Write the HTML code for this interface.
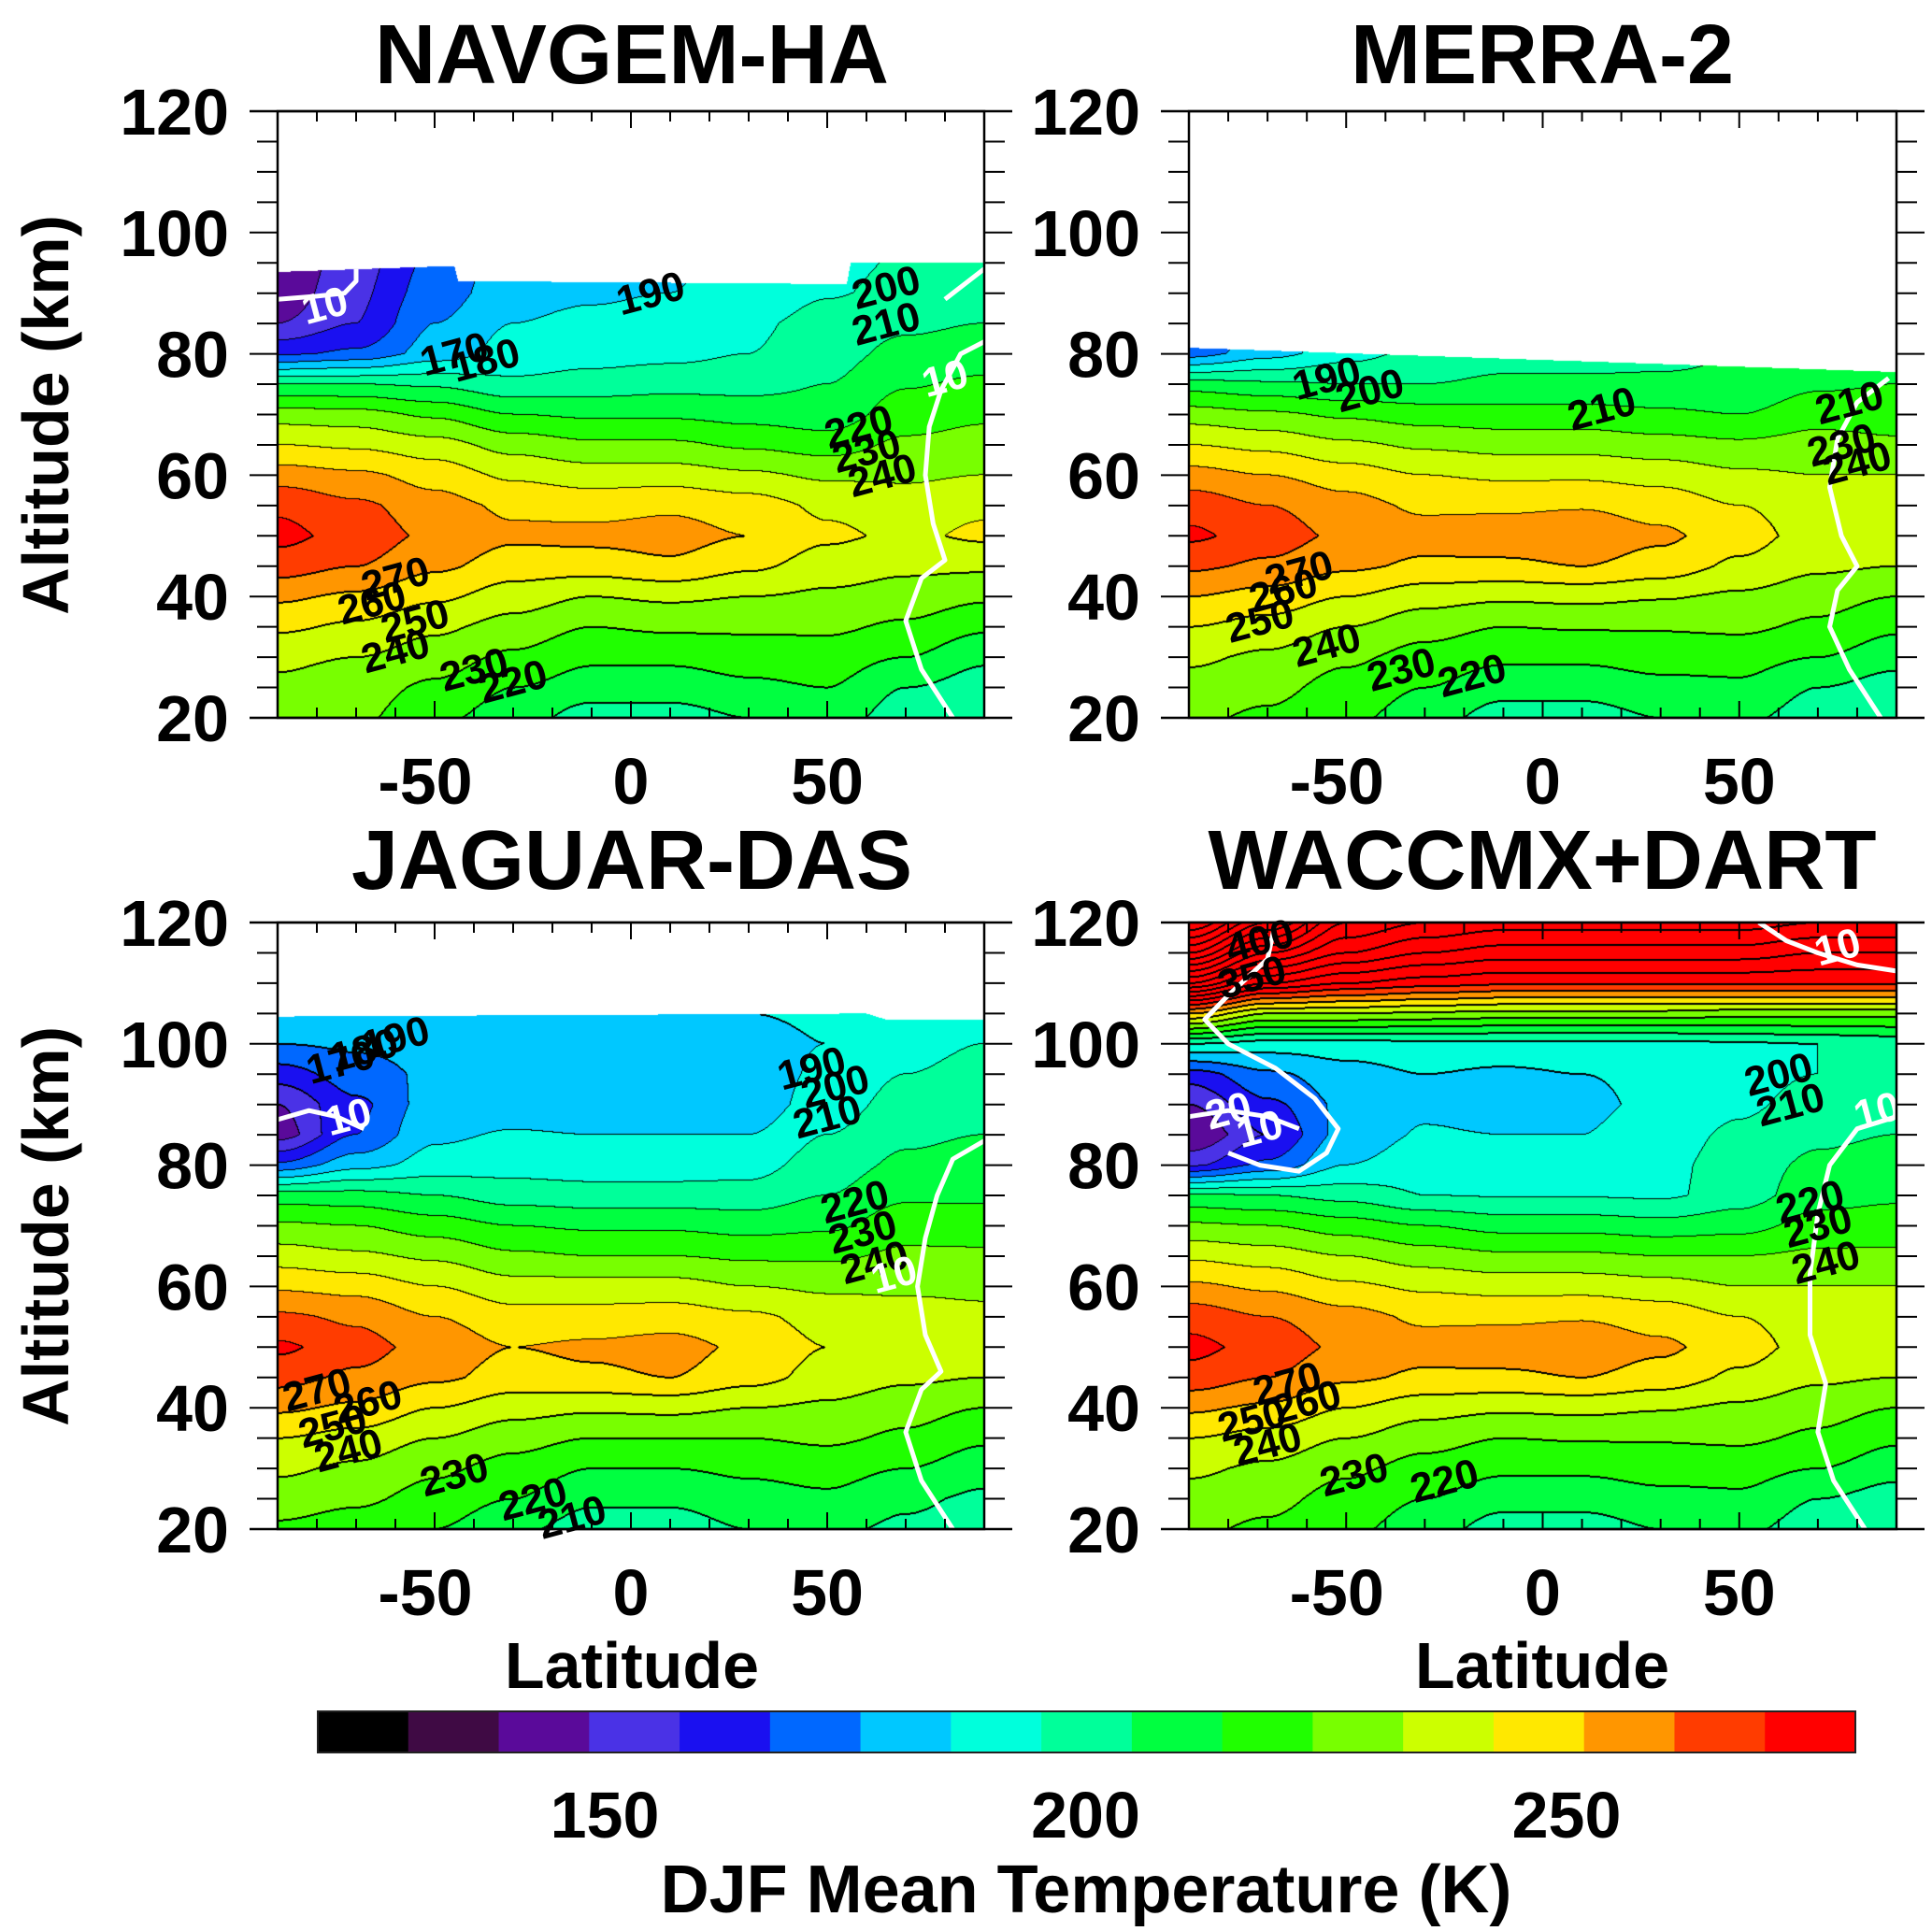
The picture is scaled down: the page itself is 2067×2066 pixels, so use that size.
<!DOCTYPE html>
<html><head><meta charset="utf-8">
<style>
html,body{margin:0;padding:0;background:#fff;}
#root{position:relative;width:2067px;height:2066px;overflow:hidden;font-family:"Liberation Sans",sans-serif;}
canvas{position:absolute;}
svg{position:absolute;left:0;top:0;}
</style></head>
<body>
<div id="root">
<canvas id="c0"></canvas>
<canvas id="c1"></canvas>
<canvas id="c2"></canvas>
<canvas id="c3"></canvas>
<svg id="ov" width="2067" height="2066"></svg>
</div>
<script>
// ---- data ----
const lats = [-90,-70,-50,-30,-10,10,30,50,70,90];
const altsNavgem = [20,25,30,35,40,45,50,55,60,65,70,75,80,85,90,95];
const tempNavgem = [
[235,232,222,215,205,205,210,215,205,205],
[238,235,228,220,215,215,218,220,210,205],
[242,240,235,228,222,222,224,225,220,212],
[252,248,242,236,230,232,232,232,228,222],
[262,258,252,245,240,242,240,238,236,232],
[275,270,262,255,255,258,252,245,242,242],
[283,276,268,262,263,264,260,252,248,252],
[278,272,264,258,256,258,255,248,245,248],
[265,262,256,248,245,245,242,238,238,240],
[250,248,244,236,232,232,228,225,232,234],
[235,234,228,220,218,218,216,214,225,228],
[210,210,208,202,204,206,206,210,219,222],
[168,172,184,194,196,197,200,206,213,215],
[150,160,180,190,193,195,198,204,208,210],
[143,158,175,186,188,190,193,199,203,205],
[140,156,172,185,187,189,192,197,201,203]];
const topLatNavgem = [-90,-45,-44,55,56,90];
const topAltNavgem = [93.5,94.5,92,91.5,95,95];

const altsMerra = [20,25,30,35,40,45,50,55,60,65,70,75,80,85];
const tempMerra = [
[232,228,222,215,205,205,210,212,205,202],
[236,233,226,220,214,214,217,218,210,205],
[242,238,232,226,222,222,224,224,220,214],
[250,246,240,234,230,231,231,232,228,222],
[260,256,250,244,242,243,241,238,234,230],
[272,268,262,258,258,260,256,248,242,240],
[282,275,268,264,265,266,262,254,246,245],
[276,270,264,258,258,259,256,250,245,244],
[264,260,255,250,248,248,246,242,240,240],
[250,247,242,238,236,236,234,232,234,232],
[235,232,228,225,224,224,222,220,226,225],
[215,212,210,210,212,212,212,212,218,220],
[175,186,196,203,206,206,207,210,214,216],
[168,180,192,200,203,204,205,208,212,214]];
const topLatMerra = [-90,90];
const topAltMerra = [81,77];

const altsJaguar = [20,25,30,35,40,45,50,55,60,65,70,75,80,85,90,95,100,105];
const tempJaguar = [
[228,225,220,212,205,205,210,212,208,205],
[235,232,226,220,212,212,216,218,212,208],
[242,238,232,226,220,220,222,224,220,214],
[250,246,240,234,230,230,230,232,228,222],
[262,258,250,244,242,243,240,238,234,230],
[274,268,262,256,258,260,254,246,242,240],
[282,274,266,260,262,264,258,250,246,244],
[272,268,260,254,254,255,252,246,244,242],
[258,256,250,244,244,244,240,238,238,238],
[245,242,238,232,230,230,228,228,232,232],
[232,230,225,220,218,218,216,218,226,225],
[215,214,210,205,204,204,204,210,218,218],
[172,186,194,196,195,195,196,205,212,214],
[145,170,188,191,190,190,190,200,208,210],
[150,168,184,185,184,184,184,195,204,206],
[165,175,182,182,182,182,184,192,200,204],
[180,182,184,184,184,184,186,190,196,200],
[188,188,188,188,188,188,190,192,194,196]];
const topLatJaguar = [-90,60,65,90];
const topAltJaguar = [104.5,105,104,104];

const altsWaccm = [20,25,30,35,40,45,50,55,60,65,70,75,80,85,90,95,100,105,110,115,120];
const tempWaccm = [
[232,228,222,215,205,205,210,212,205,202],
[236,233,226,220,214,214,217,218,210,205],
[242,238,232,226,222,222,224,224,220,214],
[250,246,240,234,230,231,231,232,228,222],
[262,258,250,244,242,243,241,238,234,230],
[276,270,262,258,258,260,256,248,242,240],
[283,276,268,264,265,266,262,254,246,245],
[276,270,264,258,258,259,256,250,245,244],
[262,258,252,248,246,246,244,240,240,240],
[248,245,240,235,232,232,230,230,232,232],
[232,230,225,220,216,216,214,216,224,225],
[212,210,206,200,199,199,198,205,216,218],
[158,172,190,196,195,195,197,205,212,214],
[140,160,183,191,190,190,195,202,208,210],
[150,168,182,188,186,188,192,198,204,206],
[165,178,186,190,188,190,192,196,200,202],
[200,195,195,196,196,196,196,198,200,202],
[260,240,240,238,236,236,236,234,234,234],
[330,300,290,285,282,282,282,282,282,282],
[380,340,320,310,305,305,305,305,300,300],
[420,380,340,330,325,325,325,325,320,320]];
const topLatWaccm = [-90,90];
const topAltWaccm = [120,120];

const panelTitles = ["NAVGEM-HA","MERRA-2","JAGUAR-DAS","WACCMX+DART"];
const yTicks = [20,40,60,80,100,120];
const xTicks = [-50,0,50];
const cbarColors = ["#000000","#3f0a44","#5a0a9a","#4a32e6","#1a10f0","#0068ff","#00c8ff","#00ffdc","#00ff9a","#00ff40","#20ff00","#78ff00","#ccff00","#ffe800","#ff9600","#ff3c00","#ff0000"];
const cbarTicks = [150,200,250];
const contourLabels = [
 [[-78,88,"10","#fff"],[5,90,"190","#000"],[65,91,"200","#000"],[65,85,"210","#000"],[-45,80,"170","#000"],[-37,79,"180","#000"],[58,68,"220","#000"],[60,64,"230","#000"],[64,60,"240","#000"],[-60,43,"270","#000"],[-66,39,"260","#000"],[-55,36,"250","#000"],[-60,31,"240","#000"],[-40,28,"230","#000"],[-30,26,"220","#000"],[80,76,"10","#fff"]],
 [[-55,76,"190","#000"],[-44,74,"200","#000"],[15,71,"210","#000"],[78,72,"210","#000"],[76,65,"230","#000"],[80,62,"240","#000"],[-62,44,"270","#000"],[-66,41,"260","#000"],[-72,36,"250","#000"],[-55,32,"240","#000"],[-36,28,"230","#000"],[-18,27,"220","#000"]],
 [[-60,101,"190","#000"],[-68,99,"180","#000"],[-74,97,"170","#000"],[-72,88,"10","#fff"],[46,96,"190","#000"],[52,93,"200","#000"],[50,88,"210","#000"],[57,74,"220","#000"],[59,69,"230","#000"],[62,64,"240","#000"],[-80,43,"270","#000"],[-67,41,"260","#000"],[-76,37,"250","#000"],[-72,33,"240","#000"],[-45,29,"230","#000"],[-25,25,"220","#000"],[-15,22,"210","#000"],[67,62,"10","#fff"]],
 [[-72,117,"400","#000"],[-74,111,"350","#000"],[-80,89,"20","#fff"],[-72,86,"10","#fff"],[75,116,"10","#fff"],[60,95,"200","#000"],[63,90,"210","#000"],[68,74,"220","#000"],[70,70,"230","#000"],[72,64,"240","#000"],[-65,44,"270","#000"],[-60,41,"260","#000"],[-74,38,"250","#000"],[-70,34,"240","#000"],[-48,29,"230","#000"],[-25,28,"220","#000"],[85,89,"10","#fff"]]
];
// white zonal-wind (10 m/s) contours: [lat, alt] points
const windLines = [
 [[[82,20],[74,28],[70,36],[74,43],[80,46],[77,52],[75,60],[76,68],[79,74],[84,80],[90,82]],[[-90,89],[-80,89.5],[-73,90],[-70,92],[-70,94]],[[80,89],[86,92],[90,94]]],
 [[[86,20],[78,28],[73,35],[75,41],[80,45],[76,50],[73,58],[75,66],[80,72],[88,76]]],
 [[[82,20],[74,28],[70,36],[74,43],[79,46],[75,52],[73,60],[75,68],[78,75],[82,81],[90,84]],[[-90,87.5],[-82,89],[-75,88],[-68,86]]],
 [[[82,20],[74,28],[70,36],[72,44],[68,52],[68,62],[70,72],[73,80],[80,86],[90,88]],[[55,120],[62,117],[70,115],[80,113],[90,112]],[[-68,120],[-70,114],[-80,108],[-86,104],[-80,100],[-68,96],[-58,91],[-52,86],[-55,82],[-62,79],[-72,80],[-80,82]],[[-90,88],[-80,89],[-70,88],[-62,86]]]
];

// ---- layout ----
const panels = [
 {x0:297,x1:1053,y0:119,y1:768},
 {x0:1272,x1:2029,y0:119,y1:768},
 {x0:297,x1:1053,y0:987,y1:1636},
 {x0:1272,x1:2029,y0:987,y1:1636}];
const fields = [
 {alts:altsNavgem,temp:tempNavgem,tl:topLatNavgem,ta:topAltNavgem},
 {alts:altsMerra,temp:tempMerra,tl:topLatMerra,ta:topAltMerra},
 {alts:altsJaguar,temp:tempJaguar,tl:topLatJaguar,ta:topAltJaguar},
 {alts:altsWaccm,temp:tempWaccm,tl:topLatWaccm,ta:topAltWaccm}];

function xScale(p,lat){return p.x0+(lat+90)/180*(p.x1-p.x0);}
function yScale(p,alt){return p.y1-(alt-20)/100*(p.y1-p.y0);}
function interp1(xs,ys,x){
  if(x<=xs[0])return ys[0];
  for(let i=0;i<xs.length-1;i++){if(x<=xs[i+1]){const t=(x-xs[i])/(xs[i+1]-xs[i]);return ys[i]+t*(ys[i+1]-ys[i]);}}
  return ys[ys.length-1];
}
function smooth(t){return t*t*(3-2*t);}
function sample(f,lat,alt){
  let i=0;while(i<lats.length-2&&lat>lats[i+1])i++;
  let j=0;while(j<f.alts.length-2&&alt>f.alts[j+1])j++;
  let tx=(lat-lats[i])/(lats[i+1]-lats[i]);tx=Math.max(0,Math.min(1,tx));
  let ty=(alt-f.alts[j])/(f.alts[j+1]-f.alts[j]);ty=Math.max(0,Math.min(1,ty));
  tx=smooth(tx);
  const a=f.temp[j][i],b=f.temp[j][i+1],c=f.temp[j+1][i],d=f.temp[j+1][i+1];
  return (a*(1-tx)+b*tx)*(1-ty)+(c*(1-tx)+d*tx)*ty;
}
function hex(h){return [parseInt(h.substr(1,2),16),parseInt(h.substr(3,2),16),parseInt(h.substr(5,2),16)];}
const rgb = cbarColors.map(hex);

panels.forEach((p,k)=>{
  const f=fields[k];
  const cv=document.getElementById('c'+k);
  const W=p.x1-p.x0,H=p.y1-p.y0;
  cv.width=W;cv.height=H;cv.style.left=p.x0+'px';cv.style.top=p.y0+'px';
  const ctx=cv.getContext('2d');
  const img=ctx.createImageData(W,H);
  const lev=new Int16Array(W*H).fill(-999);
  for(let py=0;py<H;py++){
    const alt=120-(py+0.5)/H*100;
    for(let px=0;px<W;px++){
      const lat=-90+(px+0.5)/W*180;
      const top=interp1(f.tl,f.ta,lat);
      if(alt>top)continue;
      const T=sample(f,lat,alt);
      lev[py*W+px]=Math.floor((T-120)/10);
    }
  }
  for(let py=0;py<H;py++)for(let px=0;px<W;px++){
    const idx=py*W+px,L=lev[idx],o=idx*4;
    if(L===-999){img.data[o]=255;img.data[o+1]=255;img.data[o+2]=255;img.data[o+3]=255;continue;}
    let c=rgb[Math.max(0,Math.min(16,L))];
    let edge=false;
    if(px+1<W&&lev[idx+1]!==-999&&lev[idx+1]!==L)edge=true;
    if(py+1<H&&lev[idx+W]!==-999&&lev[idx+W]!==L)edge=true;
    if(px>0&&lev[idx-1]!==-999&&lev[idx-1]>L)edge=true;
    if(py>0&&lev[idx-W]!==-999&&lev[idx-W]>L)edge=true;
    if(edge)c=[0,0,0];
    img.data[o]=c[0];img.data[o+1]=c[1];img.data[o+2]=c[2];img.data[o+3]=255;
  }
  ctx.putImageData(img,0,0);
});

// ---- SVG overlay ----
const NS='http://www.w3.org/2000/svg';
const svg=document.getElementById('ov');
function mk(tag,attrs,parent){const e=document.createElementNS(NS,tag);for(const k in attrs)e.setAttribute(k,attrs[k]);(parent||svg).appendChild(e);return e;}
const titleX=[676,1650,676,1650],titleY=[56,56,918,918];
panels.forEach((p,k)=>{
  const g=mk('g',{});
  
  
  const t=mk('text',{x:titleX[k],y:titleY[k]+33,'text-anchor':'middle','font-size':90,'font-weight':'bold',fill:'#000',textLength:panelTitles[k]==='MERRA-2'?410:(panelTitles[k]==='WACCMX+DART'?715:(panelTitles[k]==='JAGUAR-DAS'?600:550)),lengthAdjust:'spacingAndGlyphs'},g);
  t.textContent=panelTitles[k];
  
  
  // wind lines
  windLines[k].forEach(line=>{
    const d=line.map((pt,i)=>(i?'L':'M')+xScale(p,pt[0]).toFixed(1)+' '+yScale(p,pt[1]).toFixed(1)).join(' ');
    const wl=mk('path',{d:d,fill:'none',stroke:'#fff','stroke-width':5,'stroke-linejoin':'round'},g);
    
    
  });
  // contour labels
  contourLabels[k].forEach(l=>{
    const tx=mk('text',{x:xScale(p,l[0]),y:yScale(p,l[1])+15,'text-anchor':'middle','font-size':44,'font-weight':'bold',fill:l[3],transform:`rotate(-15 ${xScale(p,l[0])} ${yScale(p,l[1])})`},g);
    tx.textContent=l[2];
    
    
  });
  // frame
  mk('rect',{x:p.x0,y:p.y0,width:p.x1-p.x0,height:p.y1-p.y0,fill:'none',stroke:'#000','stroke-width':2.5},g);
  mk('line',{x1:p.x0-30,x2:p.x1+30,y1:p.y0,y2:p.y0,stroke:'#000','stroke-width':2.5},g);
  mk('line',{x1:p.x0-30,x2:p.x1+30,y1:p.y1,y2:p.y1,stroke:'#000','stroke-width':2.5},g);
  for(let a=20;a<=120;a+=5){
    const y=yScale(p,a),len=(a%20===0)?30:22;
    mk('line',{x1:p.x0-len,x2:p.x0,y1:y,y2:y,stroke:'#000','stroke-width':2},g);
    mk('line',{x1:p.x1,x2:p.x1+len,y1:y,y2:y,stroke:'#000','stroke-width':2},g);
  }
  yTicks.forEach(v=>{
    const tl=mk('text',{x:p.x0-52,y:yScale(p,v)+25,'text-anchor':'end','font-size':70,'font-weight':'bold',fill:'#000'},g);
    tl.textContent=v;
    
    
  });
  for(let la=-80;la<=80;la+=10){
    const x=xScale(p,la),len=(la%50===0)?18:11;
    mk('line',{x1:x,x2:x,y1:p.y0,y2:p.y0+len,stroke:'#000','stroke-width':2},g);
    mk('line',{x1:x,x2:x,y1:p.y1,y2:p.y1-len,stroke:'#000','stroke-width':2},g);
  }
  xTicks.forEach(v=>{
    const tl=mk('text',{x:xScale(p,v)-(v<0?10:0),y:p.y1+92,'text-anchor':'middle','font-size':70,'font-weight':'bold',fill:'#000'},g);
    tl.textContent=v;
    
    
  });
});
[444,1312].forEach(cy=>{
  const t=mk('text',{x:0,y:0,'text-anchor':'middle','font-size':70,'font-weight':'bold',fill:'#000',transform:`translate(73 ${cy}) rotate(-90)`});
  t.textContent='Altitude (km)';
  
  
});
[676,1650].forEach(cx=>{
  const t=mk('text',{x:cx,y:1806,'text-anchor':'middle','font-size':70,'font-weight':'bold',fill:'#000'});
  t.textContent='Latitude';
  
  
});
const cb={x0:340,x1:1985,y0:1831,y1:1875};
const cbw=(cb.x1-cb.x0)/cbarColors.length;
cbarColors.forEach((c,i)=>{
  const r=mk('rect',{x:cb.x0+i*cbw,y:cb.y0,width:cbw+0.5,height:cb.y1-cb.y0,fill:c});
  
  
});
mk('rect',{x:cb.x0,y:cb.y0,width:cb.x1-cb.x0,height:cb.y1-cb.y0,fill:'none',stroke:'#222','stroke-width':2});
function cbScale(v){return 647+(v-150)*10.29;}
cbarTicks.forEach(v=>{
  const t=mk('text',{x:cbScale(v),y:1966,'text-anchor':'middle','font-size':70,'font-weight':'bold',fill:'#000'});
  t.textContent=v;
  
  
});
const ct=mk('text',{x:1162,y:2046,'text-anchor':'middle','font-size':72,'font-weight':'bold',fill:'#000'});
ct.textContent='DJF Mean Temperature (K)';


</script>
</body></html>
